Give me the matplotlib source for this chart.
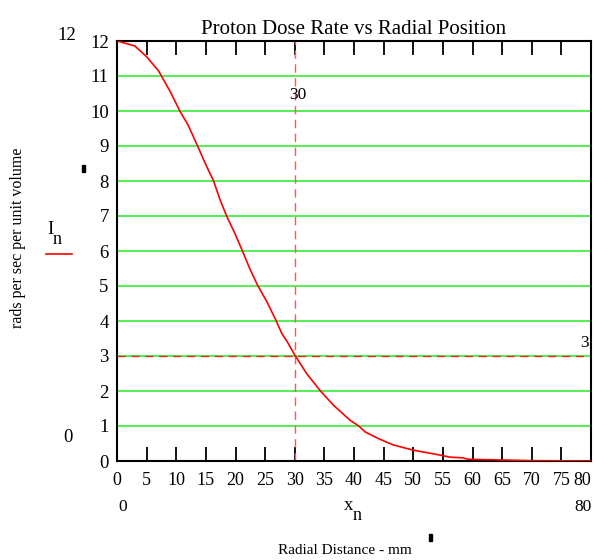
import matplotlib
matplotlib.use("Agg")
import matplotlib.pyplot as plt

# radial position (mm) and dose rate
x_n = [0, 3.0, 5.0, 7.0, 9.0, 10.6, 12.0, 13.6, 14.9, 16.3, 17.4, 18.5, 19.9,
       21.1, 22.4, 23.7, 25.3, 26.8, 27.8, 28.9, 30.0, 32.0, 34.3, 36.5,
       39.3, 40.8, 41.9, 44.0, 46.6, 50.0, 54.5, 56.2, 58.4, 59.2, 64.6,
       70.0, 80.0]
I_n = [12.0, 11.86, 11.55, 11.15, 10.55, 10.0, 9.6, 9.0, 8.5, 8.0, 7.46, 7.0,
       6.5, 6.03, 5.5, 5.03, 4.55, 4.03, 3.65, 3.36, 3.03, 2.5, 2.01, 1.6,
       1.17, 1.0, 0.83, 0.65, 0.46, 0.31, 0.17, 0.11, 0.09, 0.05, 0.03,
       0.01, 0.0]

x_ticks = list(range(0, 85, 5))
y_ticks = list(range(0, 13))
x_marker = 30
y_marker = 3

plt.rcParams["font.family"] = ["Liberation Serif", "DejaVu Serif"]

fig = plt.figure(figsize=(5.94, 5.6), dpi=100)
ax = fig.add_axes([117 / 594, 1 - 461 / 560, 474 / 594, 420 / 560])

for yv in y_ticks[1:]:
    ax.axhline(yv, color="#33ee33", lw=1.2, zorder=1)
ax.axhline(y_marker, color="red", lw=1.0, ls=(0, (6, 4)), alpha=0.8, zorder=2)
ax.axvline(x_marker, color="#ff5555", lw=1.0, ls=(0, (6, 4)), zorder=2)

ax.plot(x_n, I_n, color="red", lw=1.2, zorder=3)

ax.set_xlim(0, 80)
ax.set_ylim(0, 12)
ax.set_xticks(x_ticks)
ax.set_yticks(y_ticks)
ax.set_xticklabels([str(v) for v in x_ticks], fontsize=13)
ax.set_yticklabels([str(v) for v in y_ticks], fontsize=13.5)
ax.tick_params(axis="x", direction="in", length=10, width=1.3, top=True,
               bottom=True, pad=8, colors="black")
ax.tick_params(axis="y", length=0, pad=6)
xl = ax.get_xticklabels()
xl[-1].set_horizontalalignment("right")
xl[-1].set_x(80.6)
for s in ax.spines.values():
    s.set_linewidth(1.5)
    s.set_color("black")

ax.set_title("Proton Dose Rate vs Radial Position", fontsize=15, pad=5)

ax.text(x_marker - 0.9, 10.35, "30", fontsize=12.5)
ax.text(79.7, 3.25, "3", fontsize=12.5, ha="right")

fig.text(67 / 594, 1 - 35 / 560, "12", fontsize=13.5, ha="center", va="center")
fig.text(68 / 594, 1 - 438 / 560, "0", fontsize=13.5, ha="center", va="center")
fig.text(123 / 594, 1 - 507 / 560, "0", fontsize=12.5, ha="center", va="center")
fig.text(583 / 594, 1 - 507 / 560, "80", fontsize=12.5, ha="center", va="center")
fig.text(349 / 594, 1 - 505 / 560, "x", fontsize=13.5, ha="center", va="center")
fig.text(357 / 594, 1 - 516 / 560, "n", fontsize=13, ha="center", va="center")
fig.text(50 / 594, 1 - 229 / 560, "I", fontsize=13.5, ha="center", va="center")
fig.text(57 / 594, 1 - 239 / 560, "n", fontsize=13, ha="center", va="center")
fig.add_artist(plt.Line2D([46 / 594, 72 / 594], [1 - 254 / 560, 1 - 254 / 560],
                          color="red", lw=1.2))
fig.text(18 / 594, 1 - 238 / 560, "rads per sec per unit volume", fontsize=11.5,
         rotation=90, ha="center", va="center")
fig.text(345 / 594, 1 - 550 / 560, "Radial Distance - mm", fontsize=11,
         ha="center", va="center")
fig.add_artist(plt.Rectangle((82 / 594, 1 - 172 / 560), 3 / 594, 7 / 560,
                             color="black"))
fig.add_artist(plt.Rectangle((429 / 594, 1 - 541 / 560), 3 / 594, 7 / 560,
                             color="black"))

fig.savefig("out.png", dpi=100)
